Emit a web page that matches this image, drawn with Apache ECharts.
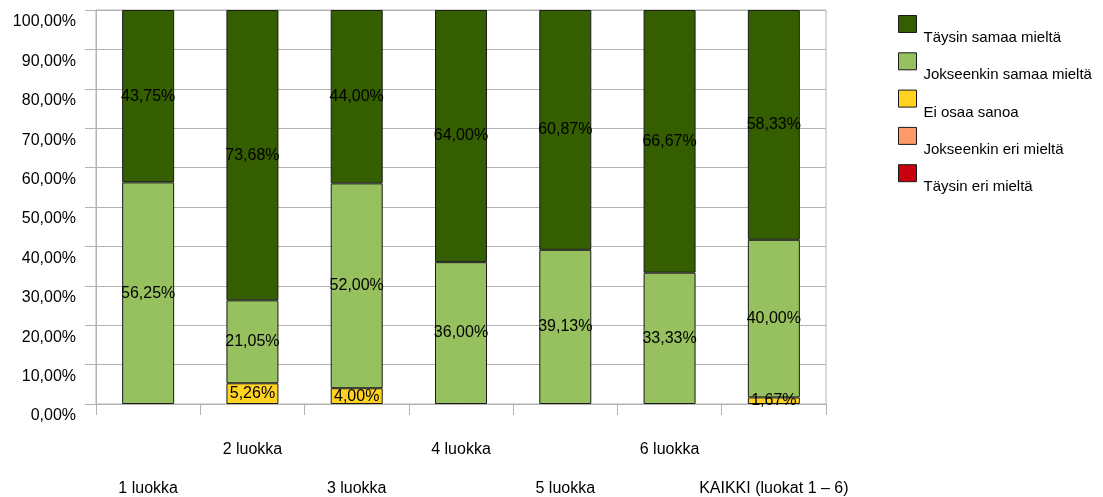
<!DOCTYPE html>
<html>
<head>
<meta charset="utf-8">
<script src="https://cdn.jsdelivr.net/npm/echarts@6/dist/echarts.min.js"></script>
<style>
  html, body { margin: 0; padding: 0; background: #fff; }
  #chart { width: 1103px; height: 497px; }
</style>
</head>
<body>
<div id="chart"></div>
<script>
// luokat
var categories = ['1 luokka', '2 luokka', '3 luokka', '4 luokka', '5 luokka', '6 luokka', 'KAIKKI (luokat 1 – 6)']

// prosentit, null = ei vastauksia
var taysinEri = [null, null, null, null, null, null, null]
var jokseenkinEri = [null, null, null, null, null, null, null]
var eiOsaa = [null, 5.26, 4.00, null, null, null, 1.67]
var jokseenkinSamaa = [56.25, 21.05, 52.00, 36.00, 39.13, 33.33, 40.00]
var taysinSamaa = [43.75, 73.68, 44.00, 64.00, 60.87, 66.67, 58.33]

var names = ['Täysin samaa mieltä', 'Jokseenkin samaa mieltä', 'Ei osaa sanoa', 'Jokseenkin eri mieltä', 'Täysin eri mieltä']
var colors = ['#355e00', '#97c05e', '#ffd320', '#ff9966', '#c9000d']

var font = '"Liberation Sans", Arial, sans-serif'
var gridColor = '#b3b3b3'

function pct(v) {
  return v.toFixed(2).replace('.', ',') + '%'
}

function makeSeries(name, data, color) {
  return {
    name: name,
    type: 'bar',
    stack: 'total',
    barWidth: 52,
    data: data,
    itemStyle: { color: color, borderColor: '#1a1a1a', borderWidth: 1 },
    label: {
      show: true,
      position: 'inside',
      color: '#000',
      fontFamily: font,
      fontSize: 16,
      formatter: function (p) { return p.value ? pct(p.value) : '' }
    },
    animation: false
  }
}

// legenda: yksi komponentti per rivi, teksti hieman ruudun alapuolella
var legends = names.map(function (n, i) {
  return {
    data: [n],
    left: 898,
    top: 15 + i * 37.3,
    padding: 0,
    orient: 'vertical',
    itemWidth: 18,
    itemHeight: 17,
    itemGap: 0,
    selectedMode: false,
    icon: 'rect',
    itemStyle: { borderColor: '#1a1a1a', borderWidth: 1 },
    formatter: function (name) { return '{t|' + name + '}' },
    textStyle: {
      rich: {
        t: { fontFamily: font, fontSize: 15, color: '#000', padding: [28, 0, 0, 2] }
      }
    }
  }
})

var chart = echarts.init(document.getElementById('chart'))
chart.setOption({
  animation: false,
  grid: {
    left: 96,
    top: 10,
    right: 277,
    bottom: 93,
    outerBoundsMode: 'none',
    show: true,
    borderColor: gridColor,
    borderWidth: 1
  },
  legend: legends,
  xAxis: {
    type: 'category',
    data: categories,
    boundaryGap: true,
    axisLine: { lineStyle: { color: gridColor } },
    axisTick: { show: true, length: 11, lineStyle: { color: gridColor } },
    axisLabel: {
      interval: 0,
      margin: 26,
      lineHeight: 39,
      fontFamily: font,
      fontSize: 16,
      color: '#000',
      formatter: function (v, i) { return i % 2 === 0 ? '\n' + v : v }
    },
    splitLine: { show: false }
  },
  yAxis: {
    type: 'value',
    min: 0,
    max: 100,
    interval: 10,
    axisLine: { show: true, lineStyle: { color: gridColor } },
    axisTick: { show: true, length: 11, lineStyle: { color: gridColor } },
    axisLabel: {
      margin: 20,
      fontFamily: font,
      fontSize: 16,
      color: '#000',
      verticalAlign: 'top',
      padding: [4, 0, 0, 0],
      formatter: function (v) { return pct(v) }
    },
    splitLine: { lineStyle: { color: gridColor } }
  },
  series: [
    makeSeries(names[4], taysinEri, colors[4]),
    makeSeries(names[3], jokseenkinEri, colors[3]),
    makeSeries(names[2], eiOsaa, colors[2]),
    makeSeries(names[1], jokseenkinSamaa, colors[1]),
    makeSeries(names[0], taysinSamaa, colors[0])
  ]
})
</script>
</body>
</html>
